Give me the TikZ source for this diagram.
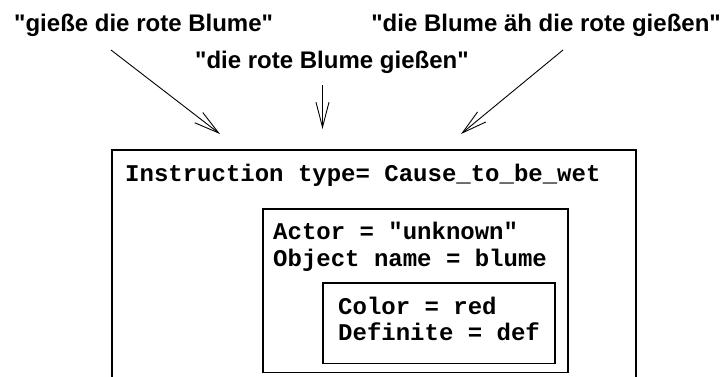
\documentclass[tikz,border=0pt]{standalone}
\usepackage{fontspec}
\setmainfont{Liberation Sans}
\newfontfamily\labelfont{Liberation Sans}
\newfontfamily\codefont{Liberation Mono}
\usetikzlibrary{arrows.meta}
\tikzset{
  lbl/.style={inner sep=0pt, font=\labelfont\fontsize{24}{28}\selectfont\bfseries},
  code/.style={inner sep=0pt, anchor=base west, font=\codefont\fontsize{24}{27}\selectfont\bfseries},
  frame/.style={line width=1.2pt, draw=black},
  pointer/.style={line width=0.9pt, -{Straight Barb[length=25pt,width=13pt,line width=0.9pt]}},
}
\begin{document}
\begin{tikzpicture}[x=1pt,y=-1pt]
\useasboundingbox (0,0) rectangle (725,376);
\clip (0,0) rectangle (725,376);
% labels
\node[lbl, anchor=base west] (l1) at (14,31.5) {"gieße die rote Blume"};
\node[lbl, anchor=base west] (l2) at (195,68) {"die rote Blume gießen"};
\node[lbl, anchor=base east] (l3) at (721,31.5) {"die Blume äh die rote gießen"};
% boxes
\coordinate (o1) at (112,150);
\coordinate (o2) at (636,390);
\coordinate (m1) at (263,209);
\coordinate (m2) at (568,372.5);
\coordinate (i1) at (323,283);
\coordinate (i2) at (555,363.5);
\draw[frame] (o1) rectangle (o2);
\draw[frame] (m1) rectangle (m2);
\draw[frame] (i1) rectangle (i2);
% texts
\node[code] (t1) at (125,181.5) {Instruction type= Cause\_to\_be\_wet};
\node[code] (t2) at (273,239.5) {Actor = "unknown"};
\node[code] (t3) at (273,266.5) {Object name = blume};
\node[code] (t4) at (338,314) {Color = red};
\node[code] (t5) at (338,340) {Definite = def};
% arrows
\coordinate (a1s) at (111,50);
\coordinate (a1e) at (220,134);
\coordinate (a2s) at (322.5,85);
\coordinate (a2e) at (322.5,129);
\coordinate (a3s) at (563,50);
\coordinate (a3e) at (461,134);
\draw[pointer] (a1s) -- (a1e);
\draw[pointer] (a2s) -- (a2e);
\draw[pointer] (a3s) -- (a3e);
\end{tikzpicture}
\end{document}
